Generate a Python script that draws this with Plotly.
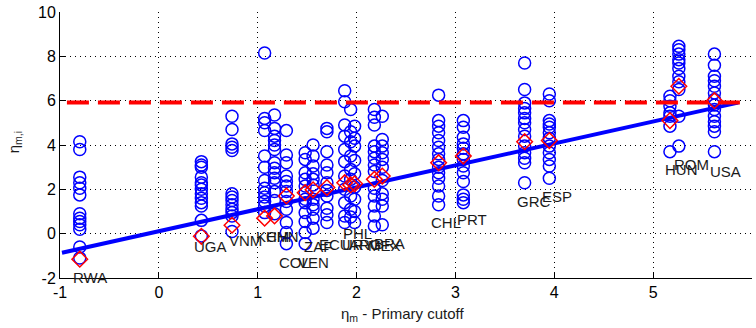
import plotly.graph_objects as go

# ---------------- data ----------------
countries = ["RWA", "UGA", "VNM", "KHM", "CHN", "COL", "VEN", "ZAF", "ECU", "PHL",
             "URY", "ARG", "MEX", "BRA", "CHL", "PRT", "GRC", "ESP", "HUN", "ROM", "USA"]

eta_m = [-0.80, 0.43, 0.74, 1.07, 1.17, 1.29, 1.48, 1.56, 1.70, 1.88,
         1.94, 1.98, 2.18, 2.26, 2.83, 3.08, 3.70, 3.95, 5.17, 5.26, 5.62]

eta_mi = [
    [4.15, 3.8, 2.55, 2.3, 2.05, 1.75, 0.9, 0.7, 0.55, 0.4, 0.2, -0.6, -1.1],           # RWA
    [3.25, 3.1, 3.0, 2.55, 2.3, 2.2, 2.0, 1.8, 1.6, 1.4, 1.25, 0.6, -0.1],              # UGA
    [5.3, 4.7, 4.05, 3.9, 3.75, 1.8, 1.65, 1.5, 1.3, 1.1, 0.95, 0.8, 0.1],              # VNM
    [8.15, 5.2, 5.0, 4.65, 3.5, 3.0, 2.4, 2.05, 1.85, 1.65, 1.45, 1.25, 0.95],          # KHM
    [5.35, 4.75, 4.4, 4.2, 4.0, 3.8, 3.2, 2.95, 2.75, 2.5, 2.3, 1.9, 1.5, 0.9],         # CHN
    [4.65, 3.55, 3.2, 2.6, 2.35, 2.15, 1.9, 1.45, 1.1, 0.5, 0.05, -0.45],               # COL
    [3.65, 3.35, 2.75, 2.45, 2.15, 1.85, 1.55, 1.4, 0.95, 0.55, 0.05, -0.45],           # VEN
    [4.0, 3.5, 3.05, 2.7, 2.45, 2.2, 1.55, 1.3, 1.1, 0.7, 0.25],                        # ZAF
    [4.75, 4.6, 3.7, 3.1, 2.75, 2.3, 1.95, 1.7, 1.15, 0.85, 0.5],                       # ECU
    [6.45, 5.95, 4.9, 4.4, 3.8, 3.25, 2.6, 2.0, 1.4, 0.8, 0.5],                         # PHL
    [5.6, 4.6, 4.15, 3.5, 2.9, 2.45, 1.7, 1.1, 0.75],                                   # URY
    [4.85, 4.3, 3.95, 3.3, 2.7, 2.1, 1.55, 1.0, 0.5],                                   # ARG
    [5.6, 5.25, 4.9, 3.95, 3.7, 3.4, 3.1, 2.8, 2.05, 1.7, 1.25, 0.8, 0.35],             # MEX
    [5.3, 4.25, 3.95, 3.65, 3.35, 3.0, 2.4, 1.8, 1.55, 1.25, 0.4],                      # BRA
    [6.25, 5.1, 4.85, 4.55, 4.2, 3.9, 3.6, 3.35, 3.0, 2.75, 2.5, 2.15, 1.7, 1.3],       # CHL
    [5.1, 4.8, 4.35, 4.05, 3.85, 3.6, 3.35, 3.05, 2.75, 2.35, 1.75, 1.55, 1.4],         # PRT
    [7.7, 6.5, 5.9, 5.65, 5.45, 5.2, 5.0, 4.7, 4.4, 3.95, 3.65, 3.4, 3.2, 2.3],         # GRC
    [6.3, 6.0, 5.1, 4.95, 4.8, 4.55, 4.3, 3.95, 3.65, 3.35, 3.05, 2.5],                 # ESP
    [6.2, 6.0, 5.75, 5.45, 5.3, 4.85, 3.7],                                             # HUN
    [8.45, 8.3, 8.1, 7.85, 7.7, 7.45, 7.1, 6.85, 6.5, 5.3, 3.95],                       # ROM
    [8.1, 7.6, 7.1, 6.9, 6.65, 6.35, 6.05, 5.8, 5.6, 5.3, 5.05, 4.85, 4.6, 3.7],        # USA
]

eta_country = [-1.15, -0.12, 0.38, 0.70, 0.80, 1.70, 1.85, 1.98, 2.08, 2.30,
               2.20, 2.25, 2.45, 2.60, 3.20, 3.50, 4.15, 4.20, 5.10, 6.65, 6.00]

# country label anchor points (data coordinates, left edge / vertical middle)
label_x = [-0.89, 0.335, 0.69, 0.967, 1.068, 1.19, 1.39, 1.45, 1.595, 1.838,
           1.83, 1.908, 2.098, 2.16, 2.73, 3.00, 3.60, 3.854, 5.097, 5.19, 5.55]
label_y = [-1.98, -0.57, -0.30, -0.15, -0.14, -1.31, -1.31, -0.57, -0.50, 0.03,
           -0.50, -0.50, -0.54, -0.45, 0.51, 0.66, 1.46, 1.68, 2.89, 3.11, 2.80]

fit_slope = 0.99
fit_intercept = 0.11
fit_x_range = [-0.98, 5.86]

cutoff_level = 5.92
cutoff_x_range = [-0.93, 5.91]

x_ticks = [-1, 0, 1, 2, 3, 4, 5, 6]
x_tick_labels = ["-1", "0", "1", "2", "3", "4", "5", "6"]
y_ticks = [-2, 0, 2, 4, 6, 8, 10]
y_tick_labels = ["-2", "0", "2", "4", "6", "8", "10"]

# ---------------- figure ----------------
FONT = "Liberation Sans, Arial, Helvetica, sans-serif"
BLUE = "#0000FF"
RED = "#FF0000"

cx, cy = [], []
for xv, vals in zip(eta_m, eta_mi):
    cx.extend([xv] * len(vals))
    cy.extend(vals)

fig = go.Figure()

fig.add_trace(go.Scatter(
    x=cx, y=cy, mode="markers",
    marker=dict(symbol="circle-open", size=12, color=BLUE, line=dict(width=1.5, color=BLUE)),
    showlegend=False, hoverinfo="skip"))

fit_y = [fit_slope * v + fit_intercept for v in fit_x_range]
fig.add_trace(go.Scatter(
    x=fit_x_range, y=fit_y, mode="lines",
    line=dict(color=BLUE, width=4), showlegend=False, hoverinfo="skip"))

fig.add_trace(go.Scatter(
    x=cutoff_x_range, y=[cutoff_level, cutoff_level], mode="lines",
    line=dict(color=RED, width=4, dash="22px,9px"), showlegend=False, hoverinfo="skip"))

fig.add_trace(go.Scatter(
    x=eta_m, y=eta_country, mode="markers",
    marker=dict(symbol="diamond-open", size=12, color=RED, line=dict(width=1.5, color=RED)),
    showlegend=False, hoverinfo="skip"))

annotations = []
for name, lx, ly in zip(countries, label_x, label_y):
    annotations.append(dict(
        x=lx, y=ly, xref="x", yref="y", text=name, showarrow=False,
        xanchor="left", yanchor="middle", font=dict(family=FONT, size=15, color="#1a1a1a")))

annotations.append(dict(
    x=0.496, y=-0.139, xref="paper", yref="paper", text="η<sub>m</sub> - Primary cutoff",
    showarrow=False, xanchor="center", yanchor="middle",
    font=dict(family=FONT, size=15, color="#1a1a1a")))
annotations.append(dict(
    x=-0.0665, y=0.51, xref="paper", yref="paper", text="η<sub>m,i</sub>",
    showarrow=False, xanchor="center", yanchor="middle", textangle=-90,
    font=dict(family=FONT, size=15, color="#1a1a1a")))

axis_common = dict(
    showgrid=True, gridcolor="black", gridwidth=1, griddash="1px,4px",
    showline=True, linecolor="black", linewidth=1,
    ticks="inside", ticklen=5, tickcolor="black", tickwidth=1,
    zeroline=False, automargin=False,
    tickfont=dict(family=FONT, size=16, color="black"))

fig.update_layout(
    width=756, height=328,
    margin=dict(l=60, r=4, t=12, b=50, autoexpand=False),
    paper_bgcolor="white", plot_bgcolor="white",
    xaxis=dict(range=[-1, 6], tickvals=x_ticks, ticktext=x_tick_labels, **axis_common),
    yaxis=dict(range=[-2, 10], tickvals=y_ticks, ticktext=y_tick_labels, **axis_common),
    annotations=annotations,
    font=dict(family=FONT),
)

# remove the default page margin so the figure fills the window exactly
fig.write_html("out.html", config={"displayModeBar": False},
               post_script="document.body.style.margin='0px';")
